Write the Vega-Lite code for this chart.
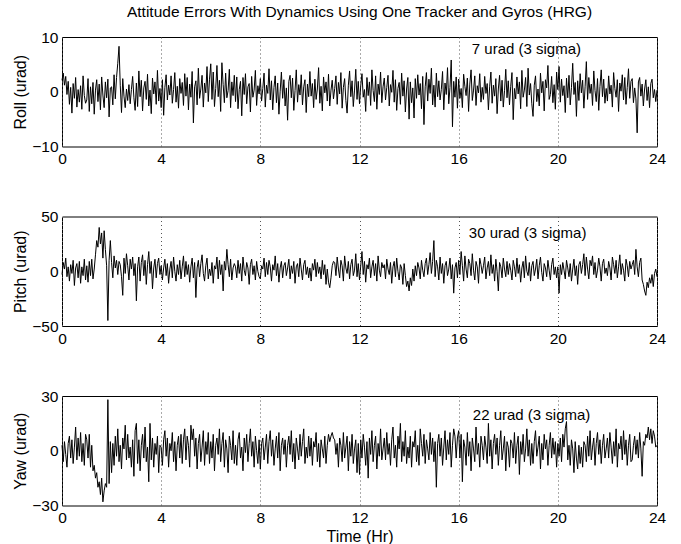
{
"$schema": "https://vega.github.io/schema/vega-lite/v6.json",
"padding": {"left": 12, "top": 5, "right": 15, "bottom": 3},
"background": "white",
"title": {"text": "Attitude Errors With Dynamics Using One Tracker and Gyros (HRG)", "font": "Liberation Sans", "fontSize": 15.5, "fontWeight": "normal", "color": "black", "anchor": "middle", "frame": "group", "offset": 9},
"spacing": 69.5,
"bounds": "flush",
"config": {
  "font": "Liberation Sans",
  "view": {"stroke": "black", "strokeWidth": 1},
  "axis": {"labelFont": "Liberation Sans", "labelFontSize": 15.5, "labelColor": "black", "titleFont": "Liberation Sans", "titleFontSize": 16, "titleFontWeight": "normal", "titleColor": "black", "domain": false, "ticks": false, "labelFlush": false, "labelOverlap": false},
  "axisX": {"grid": true, "gridColor": "#555555", "gridDash": [1, 3], "gridWidth": 1, "labelPadding": 5, "titlePadding": 2},
  "axisY": {"grid": false, "labelPadding": 4, "titlePadding": 3}
},
"data": {"values": [
{"t":0,"r":2.1,"p":-3,"y":3},{"t":0.05,"r":3.4,"p":8,"y":-6},{"t":0.1,"r":1.2,"p":2,"y":5},{"t":0.15,"r":2.8,"p":12,"y":-2},{"t":0.2,"r":-0.5,"p":-5,"y":-9},{"t":0.25,"r":1.9,"p":4,"y":4},{"t":0.3,"r":-2.3,"p":-9,"y":8},{"t":0.35,"r":0.8,"p":6,"y":-4},{"t":0.4,"r":-3.9,"p":-2,"y":6},{"t":0.45,"r":1.5,"p":10,"y":-7},{"t":0.5,"r":-1.2,"p":-13,"y":2},{"t":0.55,"r":2.6,"p":3,"y":13},{"t":0.6,"r":-2.8,"p":7,"y":-5},{"t":0.65,"r":0.4,"p":-6,"y":7},{"t":0.7,"r":-1.9,"p":9,"y":-3},{"t":0.75,"r":1.1,"p":-11,"y":10},{"t":0.8,"r":-3.2,"p":4,"y":-6},{"t":0.85,"r":2.9,"p":-4,"y":4},{"t":0.9,"r":-0.7,"p":11,"y":-8},{"t":0.95,"r":-2.1,"p":-8,"y":9},
{"t":1,"r":-1.5,"p":5,"y":6},{"t":1.05,"r":2.4,"p":-10,"y":-4},{"t":1.1,"r":-3.6,"p":9,"y":9},{"t":1.15,"r":0.9,"p":-4,"y":-9},{"t":1.2,"r":-2.2,"p":11,"y":3},{"t":1.25,"r":1.7,"p":-7,"y":-11},{"t":1.3,"r":-4.1,"p":2,"y":-8},{"t":1.35,"r":0.3,"p":15,"y":-15},{"t":1.4,"r":2.2,"p":28,"y":-12},{"t":1.45,"r":-1.8,"p":22,"y":-20},{"t":1.5,"r":1.4,"p":40,"y":-17},{"t":1.55,"r":-3.3,"p":25,"y":-24},{"t":1.6,"r":2.7,"p":35,"y":-15},{"t":1.65,"r":-0.6,"p":12,"y":-28},{"t":1.7,"r":-2.9,"p":37,"y":-22},{"t":1.75,"r":1.8,"p":20,"y":-18},{"t":1.8,"r":-1.1,"p":5,"y":-20},{"t":1.85,"r":2.3,"p":-45,"y":28},{"t":1.9,"r":-4.6,"p":10,"y":-18},{"t":1.95,"r":0.7,"p":28,"y":5},
{"t":2,"r":0.9,"p":8,"y":-12},{"t":2.05,"r":-2.4,"p":-6,"y":4},{"t":2.1,"r":3.1,"p":14,"y":-8},{"t":2.15,"r":-1.3,"p":3,"y":8},{"t":2.2,"r":2.6,"p":10,"y":-3},{"t":2.25,"r":5.2,"p":-3,"y":12},{"t":2.3,"r":8.3,"p":9,"y":-6},{"t":2.35,"r":1.2,"p":6,"y":3},{"t":2.4,"r":-3.8,"p":-5,"y":-10},{"t":2.45,"r":2.4,"p":-22,"y":7},{"t":2.5,"r":-0.8,"p":12,"y":1},{"t":2.55,"r":-2.9,"p":-2,"y":14},{"t":2.6,"r":0.5,"p":16,"y":-5},{"t":2.65,"r":-1.6,"p":5,"y":9},{"t":2.7,"r":1.3,"p":-8,"y":-4},{"t":2.75,"r":-2.2,"p":11,"y":2},{"t":2.8,"r":0.4,"p":2,"y":-9},{"t":2.85,"r":2.8,"p":13,"y":6},{"t":2.9,"r":-1.1,"p":-4,"y":-14},{"t":2.95,"r":-3.4,"p":7,"y":11},
{"t":3,"r":1.6,"p":-27,"y":15},{"t":3.05,"r":-2.7,"p":4,"y":-7},{"t":3.1,"r":3.8,"p":13,"y":6},{"t":3.15,"r":-0.9,"p":-9,"y":-11},{"t":3.2,"r":2.1,"p":8,"y":3},{"t":3.25,"r":-3.5,"p":15,"y":9},{"t":3.3,"r":0.7,"p":-4,"y":-4},{"t":3.35,"r":1.9,"p":10,"y":13},{"t":3.4,"r":-1.4,"p":-12,"y":-6},{"t":3.45,"r":3.2,"p":6,"y":2},{"t":3.5,"r":-2.6,"p":18,"y":-17},{"t":3.55,"r":0.3,"p":-2,"y":15},{"t":3.6,"r":-4,"p":9,"y":-5},{"t":3.65,"r":2.5,"p":-16,"y":7},{"t":3.7,"r":-0.4,"p":3,"y":-9},{"t":3.75,"r":1.8,"p":11,"y":4},{"t":3.8,"r":-2.3,"p":-6,"y":-2},{"t":3.85,"r":3.9,"p":7,"y":8},{"t":3.9,"r":-1.7,"p":12,"y":-12},{"t":3.95,"r":0.6,"p":-3,"y":3},
{"t":4,"r":-2.9,"p":5,"y":2},{"t":4.05,"r":2.2,"p":-8,"y":-8},{"t":4.1,"r":-4.3,"p":3,"y":6},{"t":4.15,"r":0.8,"p":11,"y":11},{"t":4.2,"r":3.1,"p":-4,"y":-3},{"t":4.25,"r":-1.5,"p":7,"y":7},{"t":4.3,"r":1.2,"p":-11,"y":-9},{"t":4.35,"r":-0.6,"p":2,"y":4},{"t":4.4,"r":2.9,"p":9,"y":0},{"t":4.45,"r":-2.1,"p":-6,"y":10},{"t":4.5,"r":0.4,"p":13,"y":-6},{"t":4.55,"r":3.5,"p":0,"y":5},{"t":4.6,"r":-1.9,"p":-9,"y":-11},{"t":4.65,"r":1,"p":6,"y":3},{"t":4.7,"r":-3,"p":-3,"y":8},{"t":4.75,"r":2.4,"p":10,"y":-4},{"t":4.8,"r":-0.3,"p":-7,"y":9},{"t":4.85,"r":1.7,"p":4,"y":-7},{"t":4.9,"r":-2.5,"p":14,"y":6},{"t":4.95,"r":3.3,"p":-5,"y":12},
{"t":5,"r":-0.8,"p":9,"y":-5},{"t":5.05,"r":2.6,"p":-3,"y":8},{"t":5.1,"r":-3.3,"p":6,"y":3},{"t":5.15,"r":1.4,"p":-10,"y":-9},{"t":5.2,"r":-1,"p":4,"y":14},{"t":5.25,"r":3.7,"p":12,"y":6},{"t":5.3,"r":-5.7,"p":-6,"y":12},{"t":5.35,"r":0.9,"p":8,"y":-3},{"t":5.4,"r":2,"p":-24,"y":7},{"t":5.45,"r":-2.4,"p":3,"y":-10},{"t":5.5,"r":4.3,"p":10,"y":4},{"t":5.55,"r":-1.2,"p":-5,"y":9},{"t":5.6,"r":0.5,"p":7,"y":-6},{"t":5.65,"r":3,"p":15,"y":2},{"t":5.7,"r":-2.8,"p":-2,"y":11},{"t":5.75,"r":1.6,"p":-9,"y":-8},{"t":5.8,"r":-0.2,"p":5,"y":5},{"t":5.85,"r":4.6,"p":12,"y":-2},{"t":5.9,"r":-1.8,"p":-7,"y":10},{"t":5.95,"r":2.3,"p":2,"y":-7},
{"t":6,"r":5.1,"p":-4,"y":5},{"t":6.05,"r":-1.4,"p":8,"y":-4},{"t":6.1,"r":3.6,"p":-11,"y":9},{"t":6.15,"r":-2.7,"p":5,"y":-11},{"t":6.2,"r":0.6,"p":2,"y":3},{"t":6.25,"r":4.8,"p":13,"y":7},{"t":6.3,"r":-0.9,"p":-7,"y":-2},{"t":6.35,"r":2.1,"p":10,"y":12},{"t":6.4,"r":-3.6,"p":-3,"y":-6},{"t":6.45,"r":5.3,"p":6,"y":4},{"t":6.5,"r":1.3,"p":-18,"y":10},{"t":6.55,"r":-2,"p":9,"y":-9},{"t":6.6,"r":3.4,"p":1,"y":6},{"t":6.65,"r":-1.1,"p":20,"y":1},{"t":6.7,"r":0.2,"p":6,"y":-12},{"t":6.75,"r":4.1,"p":-5,"y":8},{"t":6.8,"r":-2.9,"p":11,"y":3},{"t":6.85,"r":1.8,"p":-8,"y":-5},{"t":6.9,"r":-0.7,"p":3,"y":11},{"t":6.95,"r":3,"p":7,"y":-7},
{"t":7,"r":-1.8,"p":4,"y":3},{"t":7.05,"r":2.7,"p":-6,"y":-8},{"t":7.1,"r":-3.1,"p":10,"y":6},{"t":7.15,"r":0.4,"p":-2,"y":10},{"t":7.2,"r":1.9,"p":7,"y":-4},{"t":7.25,"r":-4.4,"p":-9,"y":2},{"t":7.3,"r":2.6,"p":13,"y":-11},{"t":7.35,"r":-0.5,"p":1,"y":7},{"t":7.4,"r":3.3,"p":-4,"y":-1},{"t":7.45,"r":-2.2,"p":8,"y":9},{"t":7.5,"r":0.9,"p":3,"y":-6},{"t":7.55,"r":1.5,"p":-12,"y":4},{"t":7.6,"r":-3.7,"p":6,"y":12},{"t":7.65,"r":2.8,"p":11,"y":-3},{"t":7.7,"r":-1,"p":-3,"y":5},{"t":7.75,"r":0.3,"p":5,"y":-9},{"t":7.8,"r":3.9,"p":-8,"y":8},{"t":7.85,"r":-2.5,"p":9,"y":0},{"t":7.9,"r":1.1,"p":0,"y":-7},{"t":7.95,"r":-0.4,"p":-5,"y":6},
{"t":8,"r":2.4,"p":-7,"y":-10},{"t":8.05,"r":-1.7,"p":5,"y":4},{"t":8.1,"r":0.6,"p":2,"y":7},{"t":8.15,"r":3.4,"p":12,"y":-5},{"t":8.2,"r":-2.8,"p":-5,"y":2},{"t":8.25,"r":1.2,"p":8,"y":9},{"t":8.3,"r":-0.3,"p":-3,"y":-7},{"t":8.35,"r":4.2,"p":10,"y":5},{"t":8.4,"r":-1.5,"p":4,"y":11},{"t":8.45,"r":2,"p":-9,"y":-3},{"t":8.5,"r":-3.3,"p":6,"y":6},{"t":8.55,"r":0.8,"p":1,"y":-8},{"t":8.6,"r":2.9,"p":14,"y":1},{"t":8.65,"r":-2,"p":-4,"y":8},{"t":8.7,"r":1.6,"p":7,"y":-4},{"t":8.75,"r":-4.1,"p":-10,"y":10},{"t":8.8,"r":0.1,"p":3,"y":-11},{"t":8.85,"r":3.6,"p":9,"y":3},{"t":8.9,"r":-1.2,"p":-6,"y":7},{"t":8.95,"r":2.2,"p":5,"y":-2},
{"t":9,"r":-2.6,"p":8,"y":6},{"t":9.05,"r":0.7,"p":-4,"y":-9},{"t":9.1,"r":-5.2,"p":3,"y":3},{"t":9.15,"r":1.9,"p":11,"y":8},{"t":9.2,"r":3,"p":-7,"y":-2},{"t":9.25,"r":-1.1,"p":5,"y":11},{"t":9.3,"r":2.5,"p":-2,"y":-6},{"t":9.35,"r":-3.4,"p":9,"y":4},{"t":9.4,"r":0.2,"p":-11,"y":-10},{"t":9.45,"r":4,"p":4,"y":7},{"t":9.5,"r":-1.9,"p":7,"y":1},{"t":9.55,"r":1.3,"p":-5,"y":-5},{"t":9.6,"r":-0.6,"p":12,"y":9},{"t":9.65,"r":3.1,"p":2,"y":-3},{"t":9.7,"r":-2.4,"p":-8,"y":5},{"t":9.75,"r":0.9,"p":6,"y":12},{"t":9.8,"r":2.2,"p":10,"y":-7},{"t":9.85,"r":-3.8,"p":-3,"y":2},{"t":9.9,"r":1.4,"p":4,"y":-4},{"t":9.95,"r":-0.9,"p":-6,"y":8},
{"t":10,"r":3.7,"p":3,"y":-3},{"t":10.05,"r":-0.8,"p":-9,"y":7},{"t":10.1,"r":1.5,"p":7,"y":-8},{"t":10.15,"r":-2.9,"p":1,"y":5},{"t":10.2,"r":2.3,"p":11,"y":2},{"t":10.25,"r":-1.4,"p":-5,"y":10},{"t":10.3,"r":0.5,"p":8,"y":-6},{"t":10.35,"r":4.4,"p":-2,"y":4},{"t":10.4,"r":-2.1,"p":4,"y":-9},{"t":10.45,"r":1,"p":-7,"y":6},{"t":10.5,"r":-3.5,"p":10,"y":1},{"t":10.55,"r":2.7,"p":-3,"y":-4},{"t":10.6,"r":-0.2,"p":6,"y":8},{"t":10.65,"r":1.8,"p":-12,"y":-7},{"t":10.7,"r":-1.7,"p":2,"y":3},{"t":10.75,"r":3.2,"p":-10,"y":9},{"t":10.8,"r":-2.6,"p":-15,"y":5},{"t":10.85,"r":0.3,"p":-6,"y":8},{"t":10.9,"r":2.1,"p":5,"y":10},{"t":10.95,"r":-1.3,"p":9,"y":7},
{"t":11,"r":0.6,"p":8,"y":6},{"t":11.05,"r":2.9,"p":-4,"y":-2},{"t":11.1,"r":-2.3,"p":13,"y":4},{"t":11.15,"r":1.7,"p":2,"y":-9},{"t":11.2,"r":-0.4,"p":-6,"y":7},{"t":11.25,"r":3.5,"p":10,"y":3},{"t":11.3,"r":-3,"p":5,"y":-6},{"t":11.35,"r":0.8,"p":-9,"y":10},{"t":11.4,"r":2.4,"p":14,"y":-4},{"t":11.45,"r":-1.6,"p":3,"y":2},{"t":11.5,"r":-3.9,"p":-2,"y":8},{"t":11.55,"r":1.2,"p":9,"y":-11},{"t":11.6,"r":3.8,"p":-7,"y":5},{"t":11.65,"r":-0.9,"p":6,"y":-3},{"t":11.7,"r":2,"p":11,"y":9},{"t":11.75,"r":-2.7,"p":-4,"y":-7},{"t":11.8,"r":0.3,"p":1,"y":1},{"t":11.85,"r":4.1,"p":16,"y":6},{"t":11.9,"r":-1.4,"p":-5,"y":-12},{"t":11.95,"r":1.9,"p":7,"y":4},
{"t":12,"r":-2.2,"p":-8,"y":-13},{"t":12.05,"r":1.1,"p":5,"y":6},{"t":12.1,"r":3.3,"p":18,"y":-4},{"t":12.15,"r":-1,"p":-3,"y":9},{"t":12.2,"r":0.4,"p":9,"y":2},{"t":12.25,"r":-3.6,"p":-10,"y":-8},{"t":12.3,"r":2.6,"p":6,"y":5},{"t":12.35,"r":-0.7,"p":2,"y":-15},{"t":12.4,"r":1.8,"p":12,"y":7},{"t":12.45,"r":-2.5,"p":-6,"y":-2},{"t":12.5,"r":4,"p":4,"y":11},{"t":12.55,"r":0.2,"p":10,"y":-6},{"t":12.6,"r":-1.8,"p":-4,"y":3},{"t":12.65,"r":2.9,"p":7,"y":8},{"t":12.7,"r":-3.2,"p":-9,"y":-10},{"t":12.75,"r":1.4,"p":14,"y":4},{"t":12.8,"r":-0.5,"p":1,"y":-3},{"t":12.85,"r":3.6,"p":-5,"y":12},{"t":12.9,"r":-2,"p":8,"y":-5},{"t":12.95,"r":0.9,"p":3,"y":1},
{"t":13,"r":2.5,"p":6,"y":7},{"t":13.05,"r":-1.5,"p":-7,"y":-5},{"t":13.1,"r":0.8,"p":11,"y":10},{"t":13.15,"r":3,"p":2,"y":-2},{"t":13.2,"r":-2.6,"p":-3,"y":4},{"t":13.25,"r":1.3,"p":8,"y":-8},{"t":13.3,"r":-0.1,"p":-11,"y":6},{"t":13.35,"r":3.9,"p":4,"y":13},{"t":13.4,"r":-1.9,"p":9,"y":-4},{"t":13.45,"r":2.2,"p":-5,"y":3},{"t":13.5,"r":-3.4,"p":12,"y":-9},{"t":13.55,"r":0.6,"p":0,"y":8},{"t":13.6,"r":1.7,"p":-8,"y":1},{"t":13.65,"r":-2.3,"p":6,"y":15},{"t":13.7,"r":3.4,"p":3,"y":-6},{"t":13.75,"r":-0.8,"p":-12,"y":5},{"t":13.8,"r":2,"p":7,"y":-3},{"t":13.85,"r":-3.7,"p":-4,"y":11},{"t":13.9,"r":0.5,"p":-14,"y":-7},{"t":13.95,"r":2.6,"p":-9,"y":2},
{"t":14,"r":-5,"p":-18,"y":-4},{"t":14.05,"r":1.8,"p":-6,"y":8},{"t":14.1,"r":-2,"p":-13,"y":-9},{"t":14.15,"r":0.7,"p":2,"y":5},{"t":14.2,"r":-4.8,"p":-9,"y":2},{"t":14.25,"r":2.4,"p":5,"y":11},{"t":14.3,"r":-1.2,"p":-4,"y":-6},{"t":14.35,"r":3.1,"p":8,"y":3},{"t":14.4,"r":-0.6,"p":3,"y":-8},{"t":14.45,"r":1.5,"p":-7,"y":12},{"t":14.5,"r":-3.1,"p":10,"y":4},{"t":14.55,"r":2.8,"p":1,"y":-3},{"t":14.6,"r":-6,"p":-5,"y":9},{"t":14.65,"r":0.9,"p":7,"y":-7},{"t":14.7,"r":3.5,"p":12,"y":6},{"t":14.75,"r":-1.7,"p":-3,"y":1},{"t":14.8,"r":2.3,"p":6,"y":-5},{"t":14.85,"r":-0.3,"p":17,"y":10},{"t":14.9,"r":4.3,"p":-2,"y":-2},{"t":14.95,"r":-2.4,"p":9,"y":7},
{"t":15,"r":1.2,"p":28,"y":-6},{"t":15.05,"r":-2.8,"p":-5,"y":5},{"t":15.1,"r":3.4,"p":10,"y":-20},{"t":15.15,"r":-0.9,"p":4,"y":4},{"t":15.2,"r":2,"p":-8,"y":9},{"t":15.25,"r":-1.5,"p":13,"y":-3},{"t":15.3,"r":0.4,"p":-2,"y":7},{"t":15.35,"r":3.7,"p":7,"y":-8},{"t":15.4,"r":-3.3,"p":-11,"y":2},{"t":15.45,"r":1.6,"p":5,"y":11},{"t":15.5,"r":-0.5,"p":9,"y":-5},{"t":15.55,"r":4.4,"p":-4,"y":6},{"t":15.6,"r":-2.2,"p":2,"y":-2},{"t":15.65,"r":0.8,"p":12,"y":10},{"t":15.7,"r":5.8,"p":-7,"y":-9},{"t":15.75,"r":-6.4,"p":6,"y":3},{"t":15.8,"r":1.9,"p":-20,"y":12},{"t":15.85,"r":-1,"p":3,"y":8},{"t":15.9,"r":2.7,"p":8,"y":-4},{"t":15.95,"r":-3,"p":-6,"y":7},
{"t":16,"r":2.3,"p":10,"y":11},{"t":16.05,"r":-1.2,"p":-3,"y":-4},{"t":16.1,"r":0.6,"p":18,"y":9},{"t":16.15,"r":-2.9,"p":5,"y":-17},{"t":16.2,"r":3.2,"p":-9,"y":6},{"t":16.25,"r":1,"p":14,"y":2},{"t":16.3,"r":-0.7,"p":2,"y":-8},{"t":16.35,"r":2.5,"p":-6,"y":10},{"t":16.4,"r":-3.6,"p":11,"y":-3},{"t":16.45,"r":1.4,"p":7,"y":5},{"t":16.5,"r":4,"p":-4,"y":-11},{"t":16.55,"r":-1.6,"p":16,"y":7},{"t":16.6,"r":0.3,"p":1,"y":1},{"t":16.65,"r":2.9,"p":-8,"y":-6},{"t":16.7,"r":-2.5,"p":9,"y":13},{"t":16.75,"r":1.1,"p":4,"y":-2},{"t":16.8,"r":-0.2,"p":-11,"y":4},{"t":16.85,"r":3.3,"p":12,"y":-9},{"t":16.9,"r":-1.9,"p":6,"y":8},{"t":16.95,"r":0.8,"p":-2,"y":3},
{"t":17,"r":-1.4,"p":5,"y":-5},{"t":17.05,"r":2.8,"p":13,"y":8},{"t":17.1,"r":-0.3,"p":-7,"y":2},{"t":17.15,"r":1.5,"p":3,"y":-7},{"t":17.2,"r":-3.3,"p":9,"y":15},{"t":17.25,"r":0.9,"p":-4,"y":-3},{"t":17.3,"r":3.6,"p":15,"y":6},{"t":17.35,"r":-2.1,"p":-2,"y":-10},{"t":17.4,"r":1.2,"p":6,"y":4},{"t":17.45,"r":-0.8,"p":-9,"y":9},{"t":17.5,"r":2.4,"p":11,"y":-2},{"t":17.55,"r":-4,"p":0,"y":7},{"t":17.6,"r":0.5,"p":-18,"y":-8},{"t":17.65,"r":3,"p":8,"y":3},{"t":17.7,"r":-1.7,"p":4,"y":11},{"t":17.75,"r":2.1,"p":-6,"y":-5},{"t":17.8,"r":-2.8,"p":12,"y":1},{"t":17.85,"r":0.2,"p":2,"y":8},{"t":17.9,"r":4.1,"p":-5,"y":-11},{"t":17.95,"r":-1.1,"p":9,"y":5},
{"t":18,"r":2,"p":-3,"y":2},{"t":18.05,"r":-2.4,"p":7,"y":-9},{"t":18.1,"r":1,"p":1,"y":6},{"t":18.15,"r":3.5,"p":-8,"y":4},{"t":18.2,"r":-5.1,"p":10,"y":-4},{"t":18.25,"r":0.6,"p":4,"y":10},{"t":18.3,"r":-1.3,"p":-5,"y":-7},{"t":18.35,"r":2.7,"p":12,"y":3},{"t":18.4,"r":-0.4,"p":-2,"y":8},{"t":18.45,"r":1.8,"p":6,"y":-13},{"t":18.5,"r":-3.1,"p":-10,"y":5},{"t":18.55,"r":3.9,"p":3,"y":-2},{"t":18.6,"r":-1,"p":9,"y":9},{"t":18.65,"r":0.3,"p":-6,"y":-6},{"t":18.7,"r":2.6,"p":14,"y":1},{"t":18.75,"r":-2.7,"p":0,"y":12},{"t":18.8,"r":4.3,"p":-4,"y":-3},{"t":18.85,"r":-0.6,"p":8,"y":6},{"t":18.9,"r":1.5,"p":-9,"y":-8},{"t":18.95,"r":-2.2,"p":5,"y":4},
{"t":19,"r":-4.5,"p":9,"y":-7},{"t":19.05,"r":1.2,"p":-4,"y":5},{"t":19.1,"r":2.9,"p":2,"y":11},{"t":19.15,"r":-1.8,"p":11,"y":-3},{"t":19.2,"r":0.5,"p":-7,"y":2},{"t":19.25,"r":-2.6,"p":5,"y":8},{"t":19.3,"r":3.4,"p":13,"y":-10},{"t":19.35,"r":-0.2,"p":-1,"y":4},{"t":19.4,"r":1.9,"p":-9,"y":-5},{"t":19.45,"r":-3.5,"p":7,"y":9},{"t":19.5,"r":2.2,"p":3,"y":1},{"t":19.55,"r":0.7,"p":-5,"y":6},{"t":19.6,"r":4.8,"p":10,"y":-8},{"t":19.65,"r":-1.4,"p":1,"y":3},{"t":19.7,"r":-0.5,"p":-8,"y":10},{"t":19.75,"r":2.8,"p":6,"y":-4},{"t":19.8,"r":-2,"p":12,"y":7},{"t":19.85,"r":1.3,"p":-3,"y":-2},{"t":19.9,"r":-3.2,"p":4,"y":5},{"t":19.95,"r":3.6,"p":-6,"y":-9},
{"t":20,"r":0.4,"p":4,"y":4},{"t":20.05,"r":4.6,"p":-20,"y":-3},{"t":20.1,"r":-1.9,"p":6,"y":7},{"t":20.15,"r":2.3,"p":-3,"y":-6},{"t":20.2,"r":-0.7,"p":8,"y":9},{"t":20.25,"r":1.1,"p":1,"y":2},{"t":20.3,"r":-3.8,"p":-7,"y":12},{"t":20.35,"r":2.5,"p":10,"y":16},{"t":20.4,"r":-1.1,"p":3,"y":-5},{"t":20.45,"r":3,"p":-5,"y":3},{"t":20.5,"r":-2.4,"p":7,"y":-8},{"t":20.55,"r":0.8,"p":-9,"y":6},{"t":20.6,"r":5.2,"p":2,"y":1},{"t":20.65,"r":-0.5,"p":11,"y":-12},{"t":20.7,"r":1.7,"p":-4,"y":5},{"t":20.75,"r":-4.5,"p":5,"y":-4},{"t":20.8,"r":2,"p":-12,"y":-10},{"t":20.85,"r":-1.6,"p":6,"y":3},{"t":20.9,"r":3.3,"p":9,"y":-7},{"t":20.95,"r":-0.2,"p":-2,"y":2},
{"t":21,"r":2.1,"p":6,"y":-9},{"t":21.05,"r":-3,"p":16,"y":5},{"t":21.1,"r":0.9,"p":-4,"y":3},{"t":21.15,"r":5.5,"p":13,"y":-6},{"t":21.2,"r":-1.4,"p":2,"y":8},{"t":21.25,"r":2.6,"p":-7,"y":-3},{"t":21.3,"r":-0.3,"p":10,"y":11},{"t":21.35,"r":1.4,"p":5,"y":-5},{"t":21.4,"r":-2.5,"p":14,"y":2},{"t":21.45,"r":3.8,"p":-3,"y":7},{"t":21.5,"r":0.2,"p":8,"y":-8},{"t":21.55,"r":-1.8,"p":-6,"y":4},{"t":21.6,"r":2.4,"p":1,"y":10},{"t":21.65,"r":-3.4,"p":12,"y":-2},{"t":21.7,"r":1,"p":4,"y":6},{"t":21.75,"r":4,"p":-9,"y":-7},{"t":21.8,"r":-0.9,"p":7,"y":3},{"t":21.85,"r":2.3,"p":11,"y":9},{"t":21.9,"r":-2.1,"p":-2,"y":-4},{"t":21.95,"r":0.6,"p":3,"y":1},
{"t":22,"r":-1.7,"p":-4,"y":7},{"t":22.05,"r":2.9,"p":9,"y":-4},{"t":22.1,"r":-0.4,"p":3,"y":10},{"t":22.15,"r":1.2,"p":-8,"y":2},{"t":22.2,"r":-2.8,"p":13,"y":-7},{"t":22.25,"r":3.5,"p":6,"y":5},{"t":22.3,"r":0.6,"p":-2,"y":-3},{"t":22.35,"r":-1,"p":10,"y":12},{"t":22.4,"r":2.2,"p":-6,"y":-9},{"t":22.45,"r":-3.6,"p":4,"y":4},{"t":22.5,"r":1.6,"p":15,"y":1},{"t":22.55,"r":0.1,"p":-3,"y":8},{"t":22.6,"r":3.1,"p":7,"y":-5},{"t":22.65,"r":-1.5,"p":1,"y":11},{"t":22.7,"r":2.6,"p":-9,"y":-2},{"t":22.75,"r":-2.3,"p":11,"y":6},{"t":22.8,"r":0.8,"p":5,"y":-8},{"t":22.85,"r":4.2,"p":-5,"y":3},{"t":22.9,"r":-1.2,"p":9,"y":9},{"t":22.95,"r":1.9,"p":2,"y":-6},
{"t":23,"r":2.4,"p":6,"y":-5},{"t":23.05,"r":-2,"p":10,"y":3},{"t":23.1,"r":0.7,"p":-3,"y":8},{"t":23.15,"r":-1.3,"p":20,"y":-2},{"t":23.2,"r":-7.5,"p":4,"y":6},{"t":23.25,"r":1.8,"p":-5,"y":-4},{"t":23.3,"r":2.6,"p":8,"y":10},{"t":23.35,"r":-0.8,"p":12,"y":1},{"t":23.4,"r":1.4,"p":-8,"y":-14},{"t":23.45,"r":-2.6,"p":-12,"y":5},{"t":23.5,"r":0.5,"p":-18,"y":3},{"t":23.55,"r":2.2,"p":-22,"y":9},{"t":23.6,"r":-1.6,"p":-10,"y":7},{"t":23.65,"r":0.9,"p":-15,"y":13},{"t":23.7,"r":-2.9,"p":-6,"y":6},{"t":23.75,"r":1.5,"p":-11,"y":12},{"t":23.8,"r":2.3,"p":-3,"y":4},{"t":23.85,"r":-1.1,"p":-14,"y":11},{"t":23.9,"r":0.4,"p":-2,"y":8},{"t":23.95,"r":-1.8,"p":2,"y":2},{"t":24,"r":0.3,"p":-5,"y":3}
]},
"vconcat": [
  {"width": 595, "height": 109.5, "layer": [
    {"mark": {"type": "line", "color": "black", "strokeWidth": 1},
     "encoding": {
       "x": {"field": "t", "type": "quantitative", "scale": {"domain": [0, 24], "nice": false}, "axis": {"title": null, "values": [0, 4, 8, 12, 16, 20, 24]}},
       "y": {"field": "r", "type": "quantitative", "scale": {"domain": [-10, 10], "nice": false}, "axis": {"values": [-10, 0, 10], "title": "Roll (urad)"}}}},
    {"data": {"values": [{"t": 16.53, "v": 7.75, "label": "7 urad (3 sigma)"}]},
     "mark": {"type": "text", "align": "left", "baseline": "middle", "font": "Liberation Sans", "fontSize": 15, "color": "black"},
     "encoding": {
       "x": {"field": "t", "type": "quantitative", "axis": {"title": null, "values": [0, 4, 8, 12, 16, 20, 24]}},
       "y": {"field": "v", "type": "quantitative", "axis": {"values": [-10, 0, 10], "title": "Roll (urad)"}},
       "text": {"field": "label"}}}
  ]},
  {"width": 595, "height": 109.5, "layer": [
    {"mark": {"type": "line", "color": "black", "strokeWidth": 1},
     "encoding": {
       "x": {"field": "t", "type": "quantitative", "scale": {"domain": [0, 24], "nice": false}, "axis": {"title": null, "values": [0, 4, 8, 12, 16, 20, 24]}},
       "y": {"field": "p", "type": "quantitative", "scale": {"domain": [-50, 50], "nice": false}, "axis": {"values": [-50, 0, 50], "title": "Pitch (urad)"}}}},
    {"data": {"values": [{"t": 16.41, "v": 35.1, "label": "30 urad (3 sigma)"}]},
     "mark": {"type": "text", "align": "left", "baseline": "middle", "font": "Liberation Sans", "fontSize": 15, "color": "black"},
     "encoding": {
       "x": {"field": "t", "type": "quantitative", "axis": {"title": null, "values": [0, 4, 8, 12, 16, 20, 24]}},
       "y": {"field": "v", "type": "quantitative", "axis": {"values": [-50, 0, 50], "title": "Pitch (urad)"}},
       "text": {"field": "label"}}}
  ]},
  {"width": 595, "height": 109.5, "layer": [
    {"mark": {"type": "line", "color": "black", "strokeWidth": 1},
     "encoding": {
       "x": {"field": "t", "type": "quantitative", "scale": {"domain": [0, 24], "nice": false}, "axis": {"title": "Time (Hr)", "values": [0, 4, 8, 12, 16, 20, 24]}},
       "y": {"field": "y", "type": "quantitative", "scale": {"domain": [-30, 30], "nice": false}, "axis": {"values": [-30, 0, 30], "title": "Yaw (urad)"}}}},
    {"data": {"values": [{"t": 16.57, "v": 19.4, "label": "22 urad (3 sigma)"}]},
     "mark": {"type": "text", "align": "left", "baseline": "middle", "font": "Liberation Sans", "fontSize": 15, "color": "black"},
     "encoding": {
       "x": {"field": "t", "type": "quantitative", "axis": {"title": "Time (Hr)", "values": [0, 4, 8, 12, 16, 20, 24]}},
       "y": {"field": "v", "type": "quantitative", "axis": {"values": [-30, 0, 30], "title": "Yaw (urad)"}},
       "text": {"field": "label"}}}
  ]}
]
}
